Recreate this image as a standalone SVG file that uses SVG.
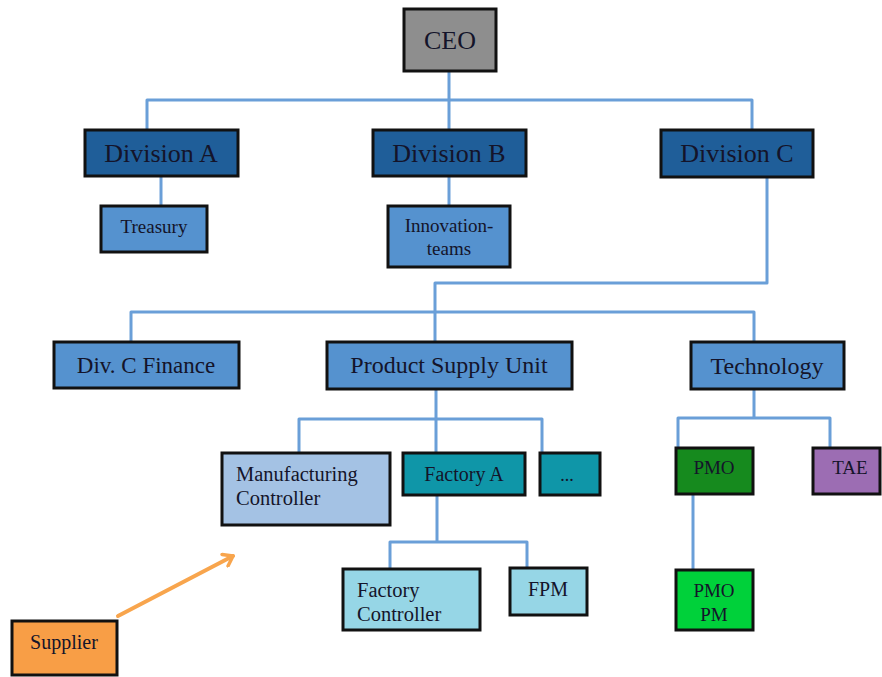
<svg xmlns="http://www.w3.org/2000/svg" width="882" height="677" viewBox="0 0 882 677">
<style>
.box{stroke:#111;stroke-width:3}
.t{font-family:"Liberation Serif","DejaVu Serif",serif;fill:#14142a;text-anchor:middle}
.l{text-anchor:start}
.c{fill:none;stroke:#6a9fd8;stroke-width:3;stroke-linejoin:round}
.ceo{fill:#8e8e8e}.div{fill:#1f5e99}.mid{fill:#5592cf}.mc{fill:#a4c2e4}.fa{fill:#0f96a8}.fc{fill:#96d6e6}
.pmo{fill:#168a1e}.pmopm{fill:#00d13a}.tae{fill:#9c6db3}.sup{fill:#f89e46}
</style>
<defs>
<marker id="ah" markerWidth="16" markerHeight="16" refX="11" refY="8" orient="auto" markerUnits="userSpaceOnUse" viewBox="0 0 16 16">
<path d="M2,1.5 L11,8 L2,14.5" fill="none" stroke="#f8a54d" stroke-width="3.5" stroke-linecap="round" stroke-linejoin="round"/>
</marker>
</defs>
<rect width="882" height="677" fill="#fff"/>
<g id="connectors">
<path class="c" d="M449,71 V100 M147,130 V100 H752 V130 M449,100 V130"/>
<path class="c" d="M161,176 V206"/>
<path class="c" d="M449,176 V206"/>
<path class="c" d="M767,177 V283 H435 V342 M131,342 V312 H754 V342"/>
<path class="c" d="M436,389 V453 M299,453 V419 H542 V453"/>
<path class="c" d="M437,495 V542 M390,569 V542 H527 V568"/>
<path class="c" d="M754,389 V418 M678,448 V418 H830 V448"/>
<path class="c" d="M693,494 V570"/>
<path d="M118,616 L233,556" fill="none" stroke="#f8a54d" stroke-width="4" marker-end="url(#ah)" stroke-linecap="round"/>
</g>
<g id="ceo"><rect class="box ceo" x="404" y="9" width="92" height="62"/><text class="t" x="450" y="49" font-size="26">CEO</text></g>
<g id="divA"><rect class="box div" x="85" y="130" width="153" height="46"/><text class="t" x="161" y="162" font-size="26">Division A</text></g>
<g id="divB"><rect class="box div" x="373" y="130" width="153" height="46"/><text class="t" x="449" y="162" font-size="26">Division B</text></g>
<g id="divC"><rect class="box div" x="661" y="130" width="152" height="47"/><text class="t" x="737" y="162" font-size="26">Division C</text></g>
<g id="treasury"><rect class="box mid" x="101" y="206" width="106" height="46"/><text class="t" x="154" y="233" font-size="19">Treasury</text></g>
<g id="innovation"><rect class="box mid" x="388" y="206" width="122" height="61"/><text class="t" x="449" y="232" font-size="19">Innovation-</text><text class="t" x="449" y="255" font-size="19">teams</text></g>
<g id="divCFinance"><rect class="box mid" x="54" y="342" width="185" height="46"/><text class="t" x="146" y="373" font-size="23">Div. C Finance</text></g>
<g id="psu"><rect class="box mid" x="327" y="342" width="245" height="47"/><text class="t" x="449" y="373" font-size="24">Product Supply Unit</text></g>
<g id="technology"><rect class="box mid" x="691" y="342" width="153" height="47"/><text class="t" x="767" y="374" font-size="24">Technology</text></g>
<g id="mfgController"><rect class="box mc" x="222" y="453" width="168" height="72"/><text class="t l" x="236" y="481" font-size="20.5">Manufacturing</text><text class="t l" x="236" y="505" font-size="20.5">Controller</text></g>
<g id="factoryA"><rect class="box fa" x="403" y="453" width="122" height="42"/><text class="t" x="464" y="481" font-size="20">Factory A</text></g>
<g id="more"><rect class="box fa" x="540" y="453" width="60" height="42"/><text class="t" x="567" y="481" font-size="18">...</text></g>
<g id="factoryController"><rect class="box fc" x="343" y="569" width="137" height="61"/><text class="t l" x="357" y="597" font-size="20.5">Factory</text><text class="t l" x="357" y="621" font-size="20.5">Controller</text></g>
<g id="fpm"><rect class="box fc" x="510" y="568" width="77" height="47"/><text class="t" x="548" y="596" font-size="20">FPM</text></g>
<g id="pmo"><rect class="box pmo" x="676" y="448" width="77" height="46"/><text class="t" x="714" y="474" font-size="19">PMO</text></g>
<g id="tae"><rect class="box tae" x="813" y="448" width="67" height="46"/><text class="t" x="850" y="474" font-size="19">TAE</text></g>
<g id="pmoPm"><rect class="box pmopm" x="676" y="570" width="77" height="60"/><text class="t" x="714" y="597" font-size="19">PMO</text><text class="t" x="714" y="621" font-size="19">PM</text></g>
<g id="supplier"><rect class="box sup" x="12" y="621" width="105" height="54"/><text class="t" x="64" y="649" font-size="20">Supplier</text></g>
</svg>
